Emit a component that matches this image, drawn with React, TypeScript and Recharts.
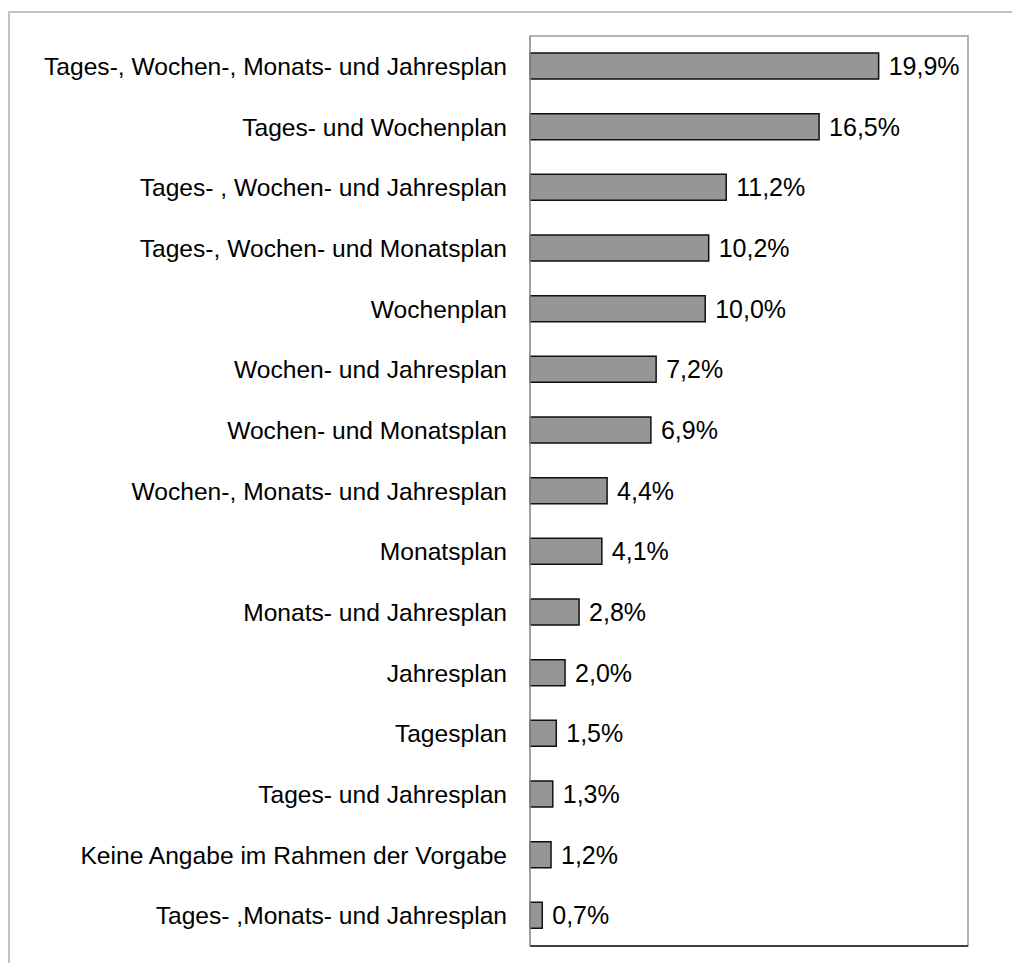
import { BarChart, Bar, XAxis, YAxis, LabelList, ReferenceArea } from 'recharts';

const CATEGORIES = [
  'Tages-, Wochen-, Monats- und Jahresplan',
  'Tages- und Wochenplan',
  'Tages- , Wochen- und Jahresplan',
  'Tages-, Wochen- und Monatsplan',
  'Wochenplan',
  'Wochen- und Jahresplan',
  'Wochen- und Monatsplan',
  'Wochen-, Monats- und Jahresplan',
  'Monatsplan',
  'Monats- und Jahresplan',
  'Jahresplan',
  'Tagesplan',
  'Tages- und Jahresplan',
  'Keine Angabe im Rahmen der Vorgabe',
  'Tages- ,Monats- und Jahresplan',
];

const SHARES = [19.9, 16.5, 11.2, 10.2, 10.0, 7.2, 6.9, 4.4, 4.1, 2.8, 2.0, 1.5, 1.3, 1.2, 0.7];

const X_TICKS = [0, 25];

const FONT = '"Liberation Sans", Arial, sans-serif';

const fmt = (v: number) => `${v.toFixed(1).replace('.', ',')}%`;

export default function App() {
  const data = CATEGORIES.map((name, i) => ({ name, value: SHARES[i] }));

  return (
    <div style={{ position: 'absolute', left: 0, top: 0, width: 1012, height: 963, overflow: 'hidden', background: '#fff' }}>
      {/* outer frame, only top and left edges are visible */}
      <div
        style={{
          position: 'absolute',
          left: 8,
          top: 11,
          width: 1100,
          height: 1100,
          border: '2px solid #c4c4c4',
        }}
      />
      <div style={{ position: 'absolute', left: 0, top: 0 }}>
        <BarChart
          width={1012}
          height={963}
          data={data}
          layout="vertical"
          margin={{ top: 36, right: 44, bottom: 0, left: 0 }}
          style={{ fontFamily: FONT }}
        >
          <ReferenceArea x1={0} x2={25} fill="none" stroke="#9a9a9a" strokeWidth={1.5} ifOverflow="visible" />
          <XAxis
            type="number"
            domain={[0, 25]}
            ticks={X_TICKS}
            tick={false}
            tickSize={9}
            height={17}
            axisLine={{ stroke: '#404040', strokeWidth: 2 }}
            tickLine={{ stroke: '#404040', strokeWidth: 1.5 }}
          />
          <YAxis
            type="category"
            dataKey="name"
            width={530}
            tickSize={0}
            tickMargin={23}
            axisLine={{ stroke: '#9a9a9a', strokeWidth: 1.5 }}
            tickLine={false}
            interval={0}
            tick={{ fontSize: 24.6, fill: '#000', fontFamily: FONT }}
          />
          <Bar dataKey="value" fill="#969696" stroke="#111" strokeWidth={1.5} barSize={26} isAnimationActive={false}>
            <LabelList
              dataKey="value"
              position="right"
              offset={10}
              formatter={(v: number) => fmt(v)}
              style={{ fontSize: 25, fill: '#000', fontFamily: FONT }}
            />
          </Bar>
        </BarChart>
      </div>
    </div>
  );
}
